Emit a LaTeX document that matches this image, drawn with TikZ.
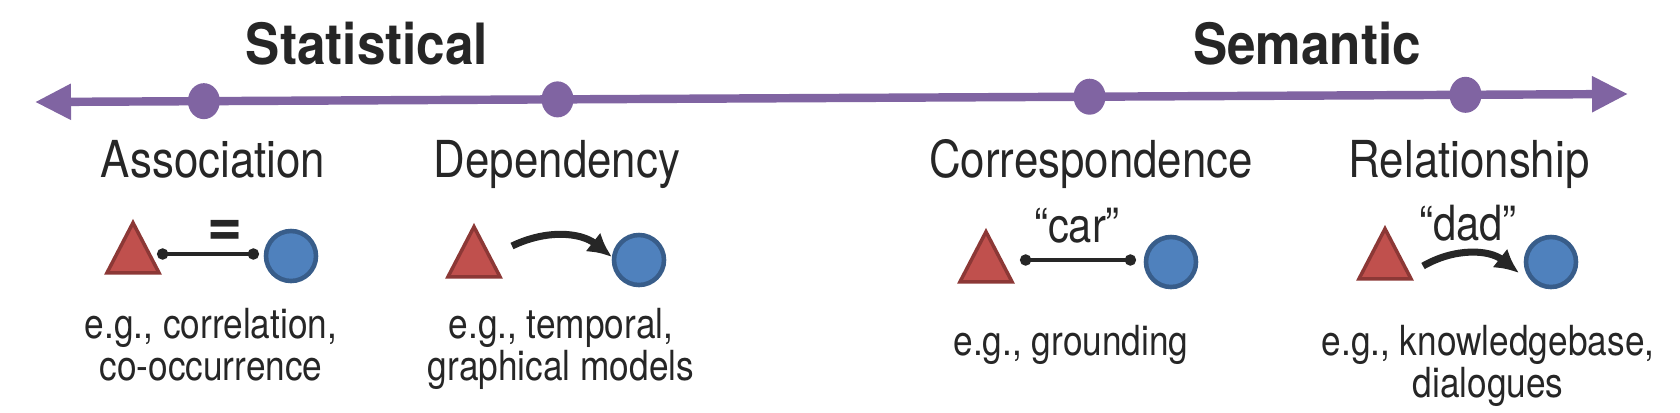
\documentclass[tikz,border=0pt]{standalone}
\usepackage{fontspec}
\setmainfont[FakeStretch=0.9]{TeX Gyre Heros}
\newfontfamily\labelfont[FakeStretch=0.86,Ligatures=TeX]{TeX Gyre Heros}
\newfontfamily\notefont[FakeStretch=0.85,Ligatures=TeX]{TeX Gyre Heros}
\usetikzlibrary{arrows.meta,shapes.geometric,positioning}

\definecolor{axispurple}{HTML}{8064A2}
\definecolor{trifill}{HTML}{C0504D}
\definecolor{triedge}{HTML}{8C3836}
\definecolor{dotfill}{HTML}{4F81BD}
\definecolor{dotedge}{HTML}{385D8A}
\definecolor{inkgray}{HTML}{262626}

\tikzset{
  axisline/.style={axispurple, line width=2.4pt, {Triangle[length=0.36cm,width=0.34cm]}-{Triangle[length=0.36cm,width=0.34cm]}},
  axdot/.style={ellipse, fill=axispurple, minimum width=0.32cm, minimum height=0.36cm, inner sep=0pt},
  heading/.style={inkgray, font=\fontsize{16.2}{19}\selectfont\bfseries, anchor=base},
  catlabel/.style={inkgray, font=\labelfont\fontsize{14.5}{17}\selectfont, anchor=base},
  example/.style={inkgray, font=\notefont\fontsize{11.8}{11.7}\selectfont, align=center, anchor=north, inner sep=0pt},
  tag/.style={inkgray, font=\labelfont\fontsize{13.8}{16}\selectfont, anchor=base},
  redtri/.style={isosceles triangle, isosceles triangle apex angle=55, isosceles triangle stretches, shape border rotate=90, fill=trifill, draw=triedge, line width=1pt, minimum height=0.5cm, minimum width=0.52cm, inner sep=0pt},
  bluedot/.style={circle, fill=dotfill, draw=dotedge, line width=1.3pt, minimum size=0.5cm, inner sep=0pt},
  dotlink/.style={inkgray, line width=1.1pt, {Circle[length=3.2pt]}-{Circle[length=3.2pt]}},
  bendlink/.style={inkgray, line width=2pt, -{Latex[length=0.24cm,width=0.24cm]}},
}

\begin{document}
\begin{tikzpicture}

        \useasboundingbox (0,0) rectangle (16.8,4.12);

        % the scale
        \node[heading] (stat) at (3.67,3.48) {Statistical};
        \node[heading] (sem) at (13.07,3.48) {Semantic};

        \draw[axisline] (0.35,3.10) coordinate(leftend) -- (16.28,3.18) coordinate(rightend)
            node[axdot, pos=0.106] (dA) {}
            node[axdot, pos=0.328] (dB) {}
            node[axdot, pos=0.662] (dC) {}
            node[axdot, pos=0.898] (dD) {};

        \node[catlabel] (lA) at (2.13,2.35) {Association};
        \node[catlabel] (lB) at (5.57,2.35) {Dependency};
        \node[catlabel] (lC) at (10.91,2.35) {Correspondence};
        \node[catlabel] (lD) at (14.69,2.35) {Relationship};

        % association
        \node[redtri] (tA) at (1.33,1.55) {};
        \node[bluedot] (cA) at (2.91,1.56) {};
        \draw[dotlink] ([shift={(0.24,0.03)}]tA.center) -- ([shift={(-0.32,0.02)}]cA.center);
        \node[tag, anchor=center, font=\fontsize{19}{20}\selectfont\bfseries] (eqA) at (2.25,1.79) {=};

        % dependency
        \node[redtri] (tB) at (4.74,1.51) {};
        \node[bluedot] (cB) at (6.39,1.52) {};
        \draw[bendlink] ([shift={(0.38,0.15)}]tB.center) to[bend left=32] ([shift={(-0.27,0.03)}]cB.center);

        % correspondence
        \node[redtri] (tC) at (9.86,1.46) {};
        \node[bluedot] (cC) at (11.71,1.50) {};
        \draw[dotlink] ([shift={(0.34,0.06)}]tC.center) -- ([shift={(-0.35,0.02)}]cC.center);
        \node[tag] (carC) at (10.77,1.70) {“car”};

        % relationship
        \node[redtri] (tD) at (13.85,1.49) {};
        \node[bluedot] (cD) at (15.51,1.50) {};
        \draw[bendlink] ([shift={(0.38,-0.03)}]tD.center) to[bend left=34] ([shift={(-0.32,-0.11)}]cD.center);
        \node[tag] (dadD) at (14.68,1.72) {“dad”};

        \node[example] (xA) at (2.11,1.04) {e.g., correlation,\\co-occurrence};
        \node[example] (xB) at (5.61,1.04) {e.g., temporal,\\graphical models};
        \node[example] (xC) at (10.71,0.87) {e.g., grounding};
        \node[example] (xD) at (14.88,0.87) {e.g., knowledgebase,\\dialogues};

    \end{tikzpicture}
\end{document}
